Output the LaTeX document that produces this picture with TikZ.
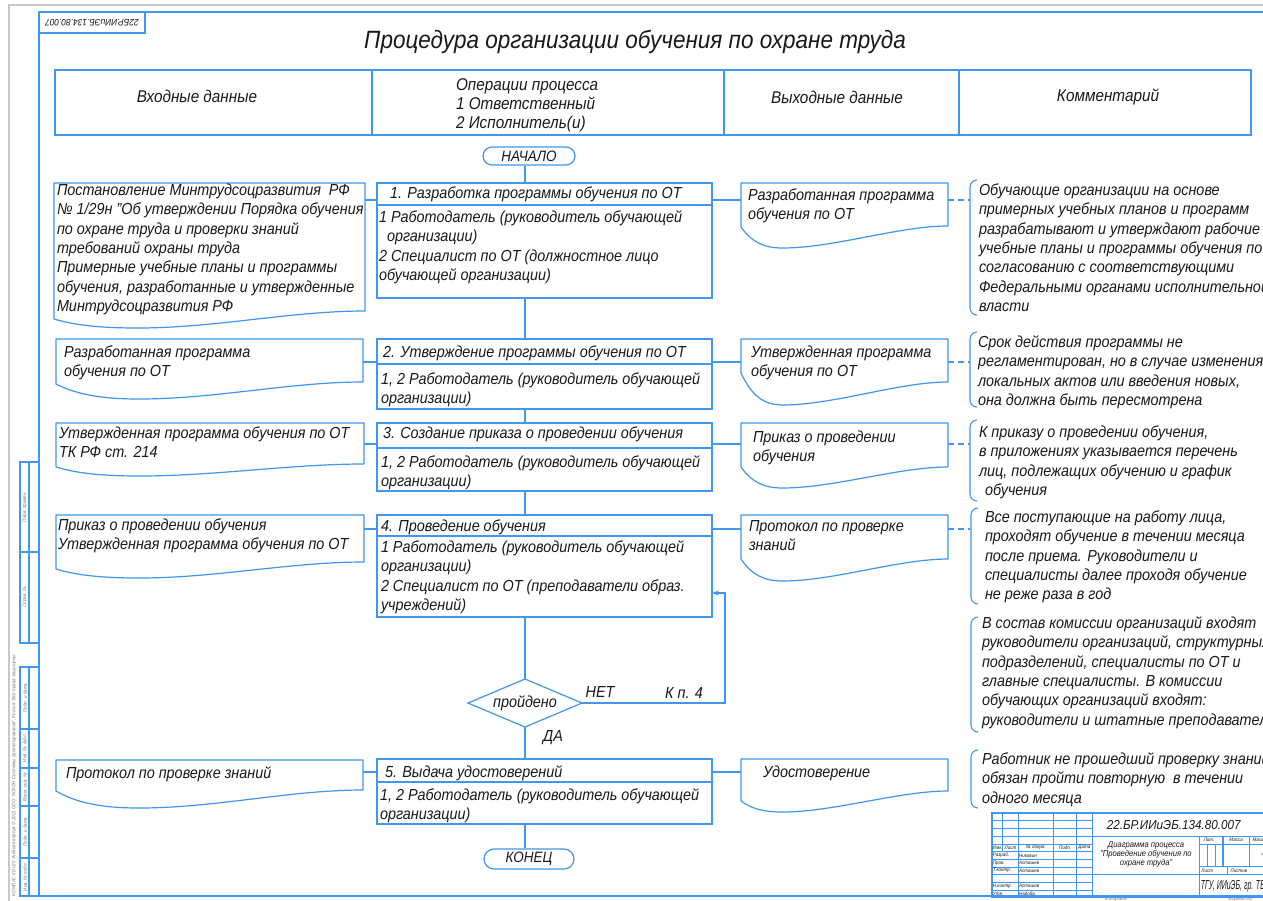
\documentclass[tikz,border=0pt]{standalone}
\usepackage{fontspec}
\setmainfont{Liberation Sans}[FakeStretch=0.9]
\usetikzlibrary{shapes.geometric,arrows.meta,calc}
\definecolor{bl}{RGB}{64,150,240}
\definecolor{tx}{RGB}{25,25,25}
\definecolor{gr}{RGB}{200,200,200}
\definecolor{gt}{RGB}{120,120,120}
\newcommand\bodyf{\fontsize{16}{19.3}\selectfont\itshape}
\newcommand\headf{\fontsize{17}{19}\selectfont\itshape}
\newcommand\tinyf{\fontsize{5}{5.5}\selectfont\itshape}
% name, x0, y0, x1, yR, yL, ymin, frac
\newcommand\docsh[8]{%
  \node[docn,minimum width={#4-#2},minimum height={#5-#3}] (#1) at (#2,#3) {};
  \draw[ln,line join=round] (#1.north west) -- (#1.north east) -- (#1.south east)
   .. controls ({#4-0.24*(#4-#2)},#5) and ({#2+(#8+0.25)*(#4-#2)},#7) .. ({#2+#8*(#4-#2)},#7)
   .. controls ({#2+0.55*#8*(#4-#2)},#7) and ({#2+0.25*#8*(#4-#2)},{#7-0.3*(#7-#6)}) .. (#2,#6) -- cycle;
}
\begin{document}
\begin{tikzpicture}[x=1pt,y=-1pt,
  ln/.style={draw=bl,line width=1.2pt},
  sl/.style={draw=bl,line width=1.1pt},
  st/.style={draw=bl,line width=0.6pt},
  rbox/.style={draw=bl,line width=1.2pt,rectangle,inner sep=0pt,outer sep=0pt,anchor=north west},
  docn/.style={rectangle,inner sep=0pt,outer sep=0pt,anchor=north west},
  txt/.style={inner sep=0pt,outer sep=0pt,anchor=north west,align=left,text=tx,font=\bodyf},
  ctxt/.style={inner sep=0pt,outer sep=0pt,anchor=center,align=center,text=tx,font=\bodyf},
  htxt/.style={inner sep=0pt,outer sep=0pt,anchor=center,text=tx,font=\headf},
  dsh/.style={draw=bl,line width=1.1pt,dash pattern=on 6pt off 4pt},
  brk/.style={draw=bl,line width=1.1pt,rounded corners=7pt},
  stx/.style={inner sep=0pt,outer sep=0pt,text=tx,font=\tinyf},
  side/.style={inner sep=0pt,outer sep=0pt,text=gt,font=\tinyf,rotate=90},
]
\fill[white] (0,0) rectangle (1263,900);
\useasboundingbox (0,0) rectangle (1263,900);

% outer borders
\draw[gr,line width=1.8pt] (9,905) -- (9,5) -- (1270,5);
\draw[bl,line width=1.6pt] (1300,12) -- (39,12) -- (39,896) -- (1300,896);
\node[rbox,minimum width=106,minimum height=21] (TL) at (39,12) {};
\node[inner sep=0pt,rotate=180,text=tx,font=\fontsize{9.3}{10}\selectfont\itshape] (TLt) at (TL.center) {22БР.ИИиЭБ.134.80.007};

% left strip
\draw[sl] (20,462) rectangle (39,643);
\draw[sl] (20,552) -- (39,552);
\draw[sl] (29,462) -- (29,643);
\draw[sl] (20,667) rectangle (39,896);
\foreach \yy in {729,768,806,858} \draw[sl] (20,\yy) -- (39,\yy);
\draw[sl] (29,667) -- (29,896);
\node[side] (s1) at (25,507) {Перв. примен.};
\node[side] (s2) at (25,597) {Справ. №};
\node[side] (s3) at (25,698) {Подп. и дата};
\node[side] (s4) at (25,748) {Инв. № дубл.};
\node[side] (s5) at (25,787) {Взам. инв. №};
\node[side] (s6) at (25,832) {Подп. и дата};
\node[side] (s7) at (25,877) {Инв. № подл.};
\node[side,anchor=west] (kmp) at (14,896) {КОМПАС-3D v20 Учебная версия © 2021 ООО "АСКОН-Системы проектирования", Россия. Все права защищены.};
\node[stx,text=gt,anchor=west] (kop) at (1105,899.5) {Копировал};
\node[stx,text=gt,anchor=west] (frm) at (1228,899.5) {Формат А3};

% title
\node[inner sep=0pt,text=tx,font=\fontsize{25}{28}\selectfont\itshape] (T) at (635,42) {Процедура организации обучения по охране труда};

% header
\node[rbox,minimum width=317,minimum height=65] (H1) at (55,70) {};
\node[rbox,minimum width=352,minimum height=65] (H2) at (372,70) {};
\node[rbox,minimum width=235,minimum height=65] (H3) at (724,70) {};
\node[rbox,minimum width=292,minimum height=65] (H4) at (959,70) {};
\node[htxt] (H1t) at (197,96) {Входные данные};
\node[txt,font=\headf] (H2t) at (456,77) {\strut Операции процесса\\1 Ответственный\\2 Исполнитель(и)};
\node[htxt] (H3t) at (837,97) {Выходные данные};
\node[htxt] (H4t) at (1108,97) {Комментарий};

% helper coordinates
\coordinate (sp) at (525,0);
\coordinate (cb) at (970,0);
\coordinate (k1) at (0,200);
\coordinate (k2) at (0,362);
\coordinate (k3) at (0,444);
\coordinate (k4) at (0,529);
\coordinate (k5) at (0,772);

% start / end
\node[draw=bl,line width=1.2pt,rounded corners=9pt,minimum width=92,minimum height=18,inner sep=0pt,text=tx,font=\fontsize{15}{16}\selectfont\itshape] (S) at (529,156) {НАЧАЛО};
\node[draw=bl,line width=1.2pt,rounded corners=10pt,minimum width=90,minimum height=20,inner sep=0pt,text=tx,font=\fontsize{15}{16}\selectfont\itshape] (E) at (529,859) {КОНЕЦ};

% process boxes
\node[rbox,minimum width=335,minimum height=115] (P1) at (377,183) {};
\draw[ln] ([yshift=-22pt]P1.north west) -- ([yshift=-22pt]P1.north east);
\node[rbox,minimum width=335,minimum height=70] (P2) at (377,339) {};
\draw[ln] ([yshift=-25pt]P2.north west) -- ([yshift=-25pt]P2.north east);
\node[rbox,minimum width=335,minimum height=68] (P3) at (377,423) {};
\draw[ln] ([yshift=-25pt]P3.north west) -- ([yshift=-25pt]P3.north east);
\node[rbox,minimum width=335,minimum height=102] (P4) at (377,515) {};
\draw[ln] ([yshift=-21pt]P4.north west) -- ([yshift=-21pt]P4.north east);
\node[rbox,minimum width=335,minimum height=65] (P5) at (377,759) {};
\draw[ln] ([yshift=-23pt]P5.north west) -- ([yshift=-23pt]P5.north east);

\node[txt] (P1a) at (390,185) {\strut 1. Разработка программы обучения по ОТ};
\node[txt] (P1b) at (379,209) {\strut 1 Работодатель (руководитель обучающей\\\hspace*{8pt}организации)\\2 Специалист по ОТ (должностное лицо\\обучающей организации)};
\node[txt] (P2a) at (383,344) {\strut 2. Утверждение программы обучения по ОТ};
\node[txt] (P2b) at (381,371) {\strut 1, 2 Работодатель (руководитель обучающей\\организации)};
\node[txt] (P3a) at (383,425) {\strut 3. Создание приказа о проведении обучения};
\node[txt] (P3b) at (381,454) {\strut 1, 2 Работодатель (руководитель обучающей\\организации)};
\node[txt] (P4a) at (381,518) {\strut 4. Проведение обучения};
\node[txt] (P4b) at (381,539) {\strut 1 Работодатель (руководитель обучающей\\организации)\\2 Специалист по ОТ (преподаватели образ.\\учреждений)};
\node[txt] (P5a) at (385,764) {\strut 5. Выдача удостоверений};
\node[txt] (P5b) at (380,787) {\strut 1, 2 Работодатель (руководитель обучающей\\организации)};

% decision
\node[diamond,draw=bl,line width=1.2pt,minimum width=114,minimum height=48,inner sep=0pt,outer sep=0pt] (D) at (525,703) {};
\node[ctxt] (Dt) at (525,703) {пройдено};
\node[ctxt] (no) at (600,692) {НЕТ};
\node[ctxt] (kp) at (684,693) {К п. 4};
\node[ctxt] (yes) at (553,738) {ДА};

% spine
\draw[ln] (S.south -| sp) -- (P1.north -| sp);
\draw[ln] (P1.south -| sp) -- (P2.north -| sp);
\draw[ln] (P2.south -| sp) -- (P3.north -| sp);
\draw[ln] (P3.south -| sp) -- (P4.north -| sp);
\draw[ln] (P4.south -| sp) -- (D.north);
\draw[ln] (D.south) -- (P5.north -| sp);
\draw[ln] (P5.south -| sp) -- (E.north -| sp);
\coordinate (fb) at (725,593);
\draw[ln,-{Stealth[length=7pt,width=5pt]}] (D.east) -| (fb) -- (P4.east |- fb);

% input documents
\docsh{L1}{54}{183}{365}{311}{319}{328}{0.27}
\docsh{L2}{56}{339}{363}{382}{384}{399}{0.27}
\docsh{L3}{56}{423}{364}{464}{467}{476}{0.27}
\docsh{L4}{56}{515}{364}{562}{569}{578}{0.27}
\docsh{L5}{56}{760}{363}{790}{791}{808}{0.27}
\node[txt] (L1t) at (57,182) {\strut Постановление Минтрудсоцразвития\ \ РФ\\№ 1/29н "Об утверждении Порядка обучения\\по охране труда и проверки знаний\\требований охраны труда\\Примерные учебные планы и программы\\обучения, разработанные и утвержденные\\Минтрудсоцразвития РФ};
\node[txt] (L2t) at (64,344) {\strut Разработанная программа\\обучения по ОТ};
\node[txt] (L3t) at (59,425) {\strut Утвержденная программа обучения по ОТ\\ТК РФ ст. 214};
\node[txt] (L4t) at (58,517) {\strut Приказ о проведении обучения\\Утвержденная программа обучения по ОТ};
\node[txt] (L5t) at (66,765) {\strut Протокол по проверке знаний};

% output documents
\docsh{R1}{741}{183}{948}{226}{227}{248}{0.2}
\docsh{R2}{741}{339}{948}{382}{373}{405}{0.2}
\docsh{R3}{741}{423}{948}{467}{467}{488}{0.2}
\docsh{R4}{741}{515}{948}{559}{559}{581}{0.2}
\docsh{R5}{741}{759}{948}{791}{801}{812}{0.2}
\node[txt] (R1t) at (748,187) {\strut Разработанная программа\\обучения по ОТ};
\node[txt] (R2t) at (751,344) {\strut Утвержденная программа\\обучения по ОТ};
\node[txt] (R3t) at (753,429) {\strut Приказ о проведении\\обучения};
\node[txt] (R4t) at (749,518) {\strut Протокол по проверке\\знаний};
\node[txt] (R5t) at (763,764) {\strut Удостоверение};

% row connectors
\draw[ln] (L1.east |- k1) -- (P1.west |- k1);
\draw[ln] (P1.east |- k1) -- (R1.west |- k1);
\draw[ln] (L2.east |- k2) -- (P2.west |- k2);
\draw[ln] (P2.east |- k2) -- (R2.west |- k2);
\draw[ln] (L3.east |- k3) -- (P3.west |- k3);
\draw[ln] (P3.east |- k3) -- (R3.west |- k3);
\draw[ln] (L4.east |- k4) -- (P4.west |- k4);
\draw[ln] (P4.east |- k4) -- (R4.west |- k4);
\draw[ln] (L5.east |- k5) -- (P5.west |- k5);
\draw[ln] (P5.east |- k5) -- (R5.west |- k5);
\draw[dsh] (R1.east |- k1) -- (cb |- k1);
\draw[dsh] (R2.east |- k2) -- (cb |- k2);
\draw[dsh] (R3.east |- k3) -- (cb |- k3);
\draw[dsh] (R4.east |- k4) -- (cb |- k4);

% comments
\draw[brk] (977,180) -- (970,180) -- (970,315) -- (977,315);
\draw[brk] (977,332) -- (970,332) -- (970,407) -- (977,407);
\draw[brk] (977,420) -- (970,420) -- (970,501) -- (977,501);
\draw[brk] (978,508) -- (971,508) -- (971,604) -- (978,604);
\draw[brk] (978,617) -- (971,617) -- (971,732) -- (978,732);
\draw[brk] (978,750) -- (971,750) -- (971,808) -- (978,808);
\node[txt] (C1) at (979,182) {\strut Обучающие организации на основе\\примерных учебных планов и программ\\разрабатывают и утверждают рабочие\\учебные планы и программы обучения по\\согласованию с соответствующими\\Федеральными органами исполнительной\\власти};
\node[txt] (C2) at (978,334) {\strut Срок действия программы не\\регламентирован, но в случае изменения\\локальных актов или введения новых,\\она должна быть пересмотрена};
\node[txt] (C3) at (979,424) {\strut К приказу о проведении обучения,\\в приложениях указывается перечень\\лиц, подлежащих обучению и график\\\hspace*{6pt}обучения};
\node[txt] (C4) at (985,509) {\strut Все поступающие на работу лица,\\проходят обучение в течении месяца\\после приема. Руководители и\\специалисты далее проходя обучение\\не реже раза в год};
\node[txt] (C5) at (982,615) {\strut В состав комиссии организаций входят\\руководители организаций, структурных\\подразделений, специалисты по ОТ и\\главные специалисты. В комиссии\\обучающих организаций входят:\\руководители и штатные преподаватели};
\node[txt] (C6) at (982,751) {\strut Работник не прошедший проверку знаний\\обязан пройти повторную\ \ в течении\\одного месяца};

% title block
\begin{scope}[shift={(992,813)},x=1.54pt,y=-1.54pt]
\draw[sl] (0,0) rectangle (200,55);
\foreach \yy in {5,10,...,50} \draw[st] (0,\yy) -- (65,\yy);
\draw[sl] (0,25) -- (65,25);
\draw[st] (7,0) -- (7,25);
\foreach \xx in {17,40,55} \draw[sl] (\xx,0) -- (\xx,55);
\draw[sl] (65,0) -- (65,55);
\draw[sl] (65,15) -- (200,15);
\draw[sl] (65,40) -- (135,40);
\draw[sl] (135,15) -- (135,55);
\draw[st] (135,20) -- (200,20);
\draw[sl] (135,35) -- (200,35);
\draw[sl] (135,40) -- (200,40);
\draw[st] (140,20) -- (140,35);
\draw[st] (145,20) -- (145,35);
\draw[sl] (150,15) -- (150,35);
\draw[sl] (167,15) -- (167,35);
\draw[sl] (153,35) -- (153,40);
\node[stx] (a1) at (3.5,22.5) {Изм.};
\node[stx] (a2) at (12,22.5) {Лист};
\node[stx] (a3) at (28.5,22.5) {№ докум.};
\node[stx] (a4) at (47.5,22.5) {Подп.};
\node[stx] (a5) at (60,22.5) {Дата};
\node[stx,anchor=west] (b1) at (0.6,27.5) {Разраб.};
\node[stx,anchor=west] (b2) at (17.6,27.5) {Никовин};
\node[stx,anchor=west] (b3) at (0.6,32.5) {Пров.};
\node[stx,anchor=west] (b4) at (17.6,32.5) {Асташев};
\node[stx,anchor=west] (b5) at (0.6,37.5) {Т.контр.};
\node[stx,anchor=west] (b6) at (17.6,37.5) {Асташев};
\node[stx,anchor=west] (b7) at (0.6,47.5) {Н.контр.};
\node[stx,anchor=west] (b8) at (17.6,47.5) {Асташев};
\node[stx,anchor=west] (b9) at (0.6,52.5) {Утв.};
\node[stx,anchor=west] (b10) at (17.6,52.5) {Надоба};
\node[stx,font=\fontsize{13}{14}\selectfont\itshape] (des) at (118,7.5) {22.БР.ИИиЭБ.134.80.007};
\node[stx,align=center,font=\fontsize{8.5}{9}\selectfont\itshape] (nm) at (100,26.6) {Диаграмма процесса\\"Проведение обучения по\\охране труда"};
\node[stx] (c1) at (141,17.5) {Лит.};
\node[stx] (c2) at (158.5,17.5) {Масса};
\node[stx] (c3) at (176,17.5) {Масштаб};
\node[stx,font=\fontsize{8}{9}\selectfont] (c4) at (176,27.5) {–};
\node[stx,anchor=west] (c5) at (136,37.5) {Лист};
\node[stx,anchor=west] (c6) at (155,37.5) {Листов};
\node[stx,anchor=west] (org) at (135.6,47.5) {\scalebox{0.6}[1]{\fontsize{13}{14}\selectfont\itshape ТГУ, ИИиЭБ, гр. ТБб-1801}};
\end{scope}
\end{tikzpicture}
\end{document}
